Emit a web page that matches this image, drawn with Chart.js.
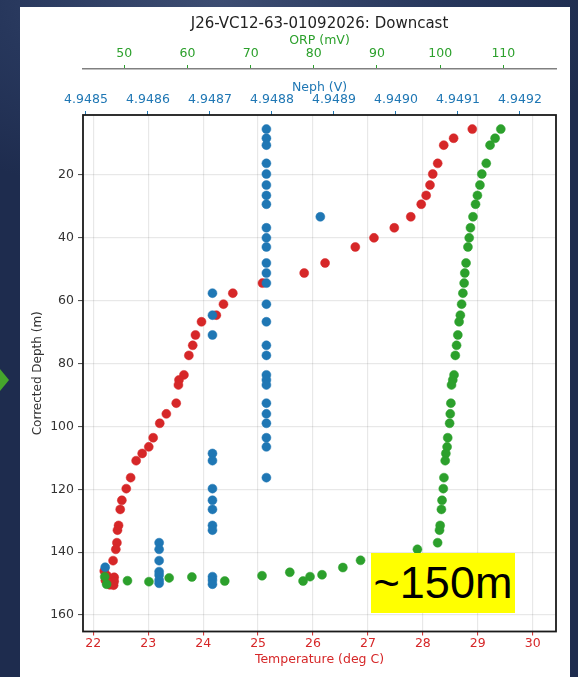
<!DOCTYPE html>
<html>
<head>
<meta charset="utf-8">
<script src="https://cdn.jsdelivr.net/npm/chart.js@4/dist/chart.umd.min.js"></script>
<style>
  html, body { margin: 0; padding: 0; }
  body {
    width: 578px; height: 677px; overflow: hidden; position: relative;
    background: radial-gradient(ellipse 70% 30% at 38% 0%, #3d4d72 0%, #27375c 55%, #1e2c4e 100%);
  }
  #panel { position: absolute; left: 20px; top: 7px; width: 550px; height: 670px; background: #fff; }
  #arrow { position: absolute; left: 0; top: 369px; width: 9px; height: 22px; background: #46a52c;
           clip-path: polygon(0 0, 100% 50%, 0 100%); }
  #wrap { position: absolute; left: 0; top: 0; width: 578px; height: 677px; }
  #tag { position: absolute; left: 371px; top: 553px; width: 144px; height: 60px; background: #ffff00;
         font-family: "Liberation Sans", Arial, sans-serif; font-size: 45px; line-height: 60px;
         text-align: center; color: #000; }
</style>
</head>
<body>
<div id="panel"></div>
<div id="arrow"></div>
<div id="wrap"><canvas id="c" width="578" height="677"></canvas></div>
<div id="tag">~150m</div>
<script>
// Downcast profile J26-VC12-63-01092026: temperature, nephelometer and ORP against depth

const chartTitle = 'J26-VC12-63-01092026: Downcast';

// Temperature (deg C)
const tempDepth = [5.4, 8.3, 10.5, 16.3, 19.7, 23.2, 26.5, 29.3, 33.3, 36.8, 40.0, 42.9, 48.0, 51.2, 54.4,
  57.6, 61.1, 64.6, 66.7, 70.9, 74.2, 77.4, 83.6, 85.2, 86.8, 92.6, 96.0, 99.0, 103.6, 106.5, 108.6,
  110.9, 116.3, 119.8, 123.5, 126.4, 131.5, 133.0, 137.0, 139.1, 142.7, 146.0, 147.5, 148.0, 149.0,
  149.3, 150.4, 150.5];
const tempC = [28.90, 28.56, 28.38, 28.27, 28.18, 28.13, 28.06, 27.97, 27.78, 27.48, 27.11, 26.77, 26.22, 25.84, 25.08,
  24.54, 24.37, 24.24, 23.97, 23.86, 23.81, 23.74, 23.65, 23.56, 23.55, 23.51, 23.33, 23.21, 23.09, 23.01, 22.89,
  22.78, 22.68, 22.60, 22.52, 22.49, 22.46, 22.44, 22.43, 22.41, 22.36, 22.20, 22.25, 22.38, 22.22,
  22.38, 22.30, 22.37];

// Nephelometer (V)
const nephDepth = [5.4, 8.3, 10.5, 16.3, 19.7, 23.2, 26.5, 29.3, 33.3, 36.8, 40.0, 42.9, 48.0, 51.2, 54.4,
  57.6, 61.1, 64.6, 66.7, 70.9, 74.2, 77.4, 83.6, 85.2, 86.8, 92.6, 96.0, 99.0, 103.6, 106.5,
  108.6, 110.9, 116.3, 119.8, 123.5, 126.4, 131.5, 133.0, 137.0, 139.1, 142.7, 144.8, 146.2, 147.3,
  147.8, 148.9, 148.9, 149.9, 150.2];
const nephV = [4.948791, 4.948791, 4.948791, 4.948791, 4.948791, 4.948791, 4.948791, 4.948791, 4.948878,
  4.948791, 4.948791, 4.948791, 4.948791, 4.948791, 4.948791,
  4.948704, 4.948791, 4.948704, 4.948791, 4.948704, 4.948791, 4.948791, 4.948791, 4.948791, 4.948791,
  4.948791, 4.948791, 4.948791, 4.948791, 4.948791,
  4.948704, 4.948704, 4.948791, 4.948704, 4.948704, 4.948704, 4.948704, 4.948704, 4.948618, 4.948618,
  4.948618, 4.948531, 4.948618, 4.948618,
  4.948704, 4.948618, 4.948704, 4.948618, 4.948704];

// ORP (mV)
const orpDepth = [5.4, 8.3, 10.5, 16.3, 19.7, 23.2, 26.5, 29.3, 33.3, 36.8, 40.0, 42.9, 48.0, 51.2, 54.4,
  57.6, 61.1, 64.6, 66.7, 70.9, 74.2, 77.4, 83.6, 85.2, 86.8, 92.6, 96.0, 99.0, 103.6, 106.5, 108.6,
  110.9, 116.3, 119.8, 123.5, 126.4, 131.5, 133.0, 137.0, 139.1, 142.6, 144.9, 146.4, 147.2, 147.8,
  149.2, 147.5, 149.2, 147.9, 148.2, 149.4, 149.1, 150.2, 147.8];
const orpMv = [109.6, 108.7, 107.9, 107.3, 106.6, 106.3, 105.9, 105.6, 105.2, 104.8, 104.6, 104.4, 104.1, 103.9, 103.8,
  103.6, 103.4, 103.2, 103.0, 102.8, 102.6, 102.4, 102.2, 102.0, 101.8, 101.7, 101.6, 101.5, 101.2, 101.1, 100.9,
  100.8, 100.6, 100.5, 100.3, 100.2, 100.0, 99.9, 99.6, 96.4, 87.4, 84.6, 76.2, 81.3, 79.4,
  78.3, 71.8, 65.9, 60.7, 57.1, 53.9, 50.5, 47.2, 46.9];

// Tick labels
const depthTicks = [20, 40, 60, 80, 100, 120, 140, 160];
const tempTicks = [22, 23, 24, 25, 26, 27, 28, 29, 30];
const nephTicks = [4.9485, 4.9486, 4.9487, 4.9488, 4.9489, 4.9490, 4.9491, 4.9492];
const orpTicks = [50, 60, 70, 80, 90, 100, 110];

const RED = '#d62728', BLUE = '#1f77b4', GREEN = '#2ca02c';
const FONT = 'DejaVu Sans';

const pairs = (xs, ys) => xs.map((x, i) => ({ x: x, y: ys[i] }));
const fixTicks = (vals) => (scale) => { scale.ticks = vals.map(v => ({ value: v })); };

// Draws the black frame round the plotting area
const frame = {
  id: 'frame',
  afterDraw(chart) {
    const { ctx, chartArea: a } = chart;
    ctx.save();
    ctx.strokeStyle = '#1a1a1a';
    ctx.lineWidth = 1.8;
    ctx.strokeRect(a.left, a.top, a.right - a.left, a.bottom - a.top);
    ctx.restore();
  }
};

const pointStyle = (c) => ({
  backgroundColor: c, borderColor: c, borderWidth: 0.5,
  pointRadius: 4.5, pointHoverRadius: 4.5, showLine: false
});

new Chart(document.getElementById('c'), {
  type: 'scatter',
  data: {
    datasets: [
      Object.assign({ label: 'ORP (mV)', data: pairs(orpMv, orpDepth), xAxisID: 'orp', yAxisID: 'depth' }, pointStyle(GREEN)),
      Object.assign({ label: 'Neph (V)', data: pairs(nephV, nephDepth), xAxisID: 'neph', yAxisID: 'depth' }, pointStyle(BLUE)),
      Object.assign({ label: 'Temperature (deg C)', data: pairs(tempC, tempDepth), xAxisID: 'temp', yAxisID: 'depth' }, pointStyle(RED))
    ]
  },
  plugins: [frame],
  options: {
    responsive: false,
    devicePixelRatio: 1,
    animation: false,
    layout: { padding: { left: 0, right: 22, top: 0, bottom: 0 } },
    plugins: {
      legend: { display: false },
      tooltip: { enabled: false },
      title: {
        display: true, text: chartTitle, fullSize: false, color: '#222',
        font: { family: FONT, size: 15, weight: 'normal', lineHeight: 1.2 },
        padding: { top: 15, bottom: 0 }
      }
    },
    scales: {
      depth: {
        axis: 'y', position: 'left', reverse: true, min: 0.91, max: 165.25,
        afterBuildTicks: fixTicks(depthTicks),
        afterFit: (s) => { s.width = 83; },
        border: { display: false },
        grid: { color: 'rgba(0,0,0,0.09)', lineWidth: 1.2, tickColor: '#444', tickLength: 5, tickWidth: 1 },
        ticks: { color: '#333', padding: 4, font: { family: FONT, size: 12.5 } },
        title: { display: true, text: 'Corrected Depth (m)', color: '#333',
                 font: { family: FONT, size: 12 }, padding: { top: 30.8, bottom: 0 } }
      },
      temp: {
        axis: 'x', position: 'bottom', min: 21.8125, max: 30.424,
        afterBuildTicks: fixTicks(tempTicks),
        afterFit: (s) => { s.height = 45.5; },
        border: { display: false },
        grid: { color: 'rgba(0,0,0,0.09)', lineWidth: 1.2, tickColor: RED, tickLength: 4, tickWidth: 1 },
        ticks: { color: RED, padding: 1, autoSkip: false, maxRotation: 0, font: { family: FONT, size: 12.5 } },
        title: { display: true, text: 'Temperature (deg C)', color: RED,
                 font: { family: FONT, size: 12.5 }, padding: { top: 0, bottom: 9.5 } }
      },
      neph: {
        axis: 'x', position: 'top', weight: 0, min: 4.9484952, max: 4.9492581,
        afterBuildTicks: fixTicks(nephTicks),
        afterFit: (s) => { s.height = 46; },
        border: { display: false },
        grid: { drawOnChartArea: false, tickColor: BLUE, tickLength: 4, tickWidth: 1 },
        ticks: { color: BLUE, padding: 4, autoSkip: false, maxRotation: 0,
                 font: { family: FONT, size: 12.5 }, callback: (v) => Number(v).toFixed(4) },
        title: { display: true, text: 'Neph (V)', color: BLUE,
                 font: { family: FONT, size: 12.5 }, padding: { top: 11, bottom: 0 } }
      },
      orp: {
        axis: 'x', position: 'top', weight: 1, min: 43.46, max: 118.34,
        afterBuildTicks: fixTicks(orpTicks),
        afterFit: (s) => { s.height = 36; },
        border: { display: true, color: '#808080', width: 1.4 },
        grid: { drawOnChartArea: false, tickColor: GREEN, tickLength: 4, tickWidth: 1 },
        ticks: { color: GREEN, padding: 3.5, autoSkip: false, maxRotation: 0, font: { family: FONT, size: 12.5 } },
        title: { display: true, text: 'ORP (mV)', color: GREEN,
                 font: { family: FONT, size: 12.5 }, padding: { top: 0, bottom: 0 } }
      }
    }
  }
});
</script>
</body>
</html>
